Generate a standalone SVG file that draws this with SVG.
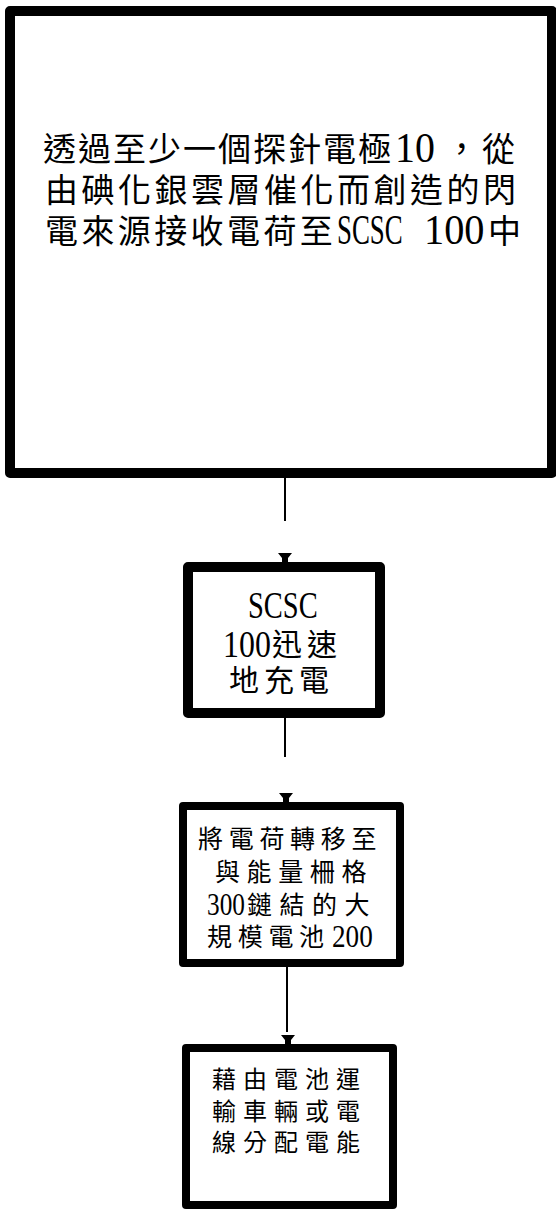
<svg xmlns="http://www.w3.org/2000/svg" width="556" height="1210" viewBox="0 0 556 1210">
<style>
.box{fill:#fff;stroke:#000;stroke-linejoin:round}
.t{font-family:"Liberation Serif","Noto Sans CJK TC",serif;fill:#000}
.c{stroke:#000;stroke-width:2;fill:none}
</style>
<defs>
<path id="ah" d="M-7,0 L7,0 L3,5 L3,9 L-3,9 L-3,5 Z" fill="#000"/>
</defs>
<rect width="556" height="1210" fill="#fff"/>
<g id="connectors">
<line class="c" x1="285" y1="476" x2="285" y2="521"/>
<use href="#ah" x="285" y="553"/>
<line class="c" x1="285" y1="716" x2="285" y2="757"/>
<use href="#ah" x="286" y="793"/>
<line class="c" x1="287" y1="965" x2="287" y2="1032"/>
<use href="#ah" x="288" y="1035"/>
</g>
<g id="node1">
<rect class="box" x="10" y="11" width="542" height="462" stroke-width="10"/>
<text class="t" font-size="33" x="43" y="161" letter-spacing="2">透過至少一個探針電極</text>
<text class="t" font-size="42" transform="translate(395,162) scale(0.95,1)">10</text>
<text class="t" font-size="33" x="445" y="161" letter-spacing="4">，從</text>
<text class="t" font-size="33" x="45" y="202" letter-spacing="3.5">由碘化銀雲層催化而創造的閃</text>
<text class="t" font-size="33" x="45" y="243" letter-spacing="3.4">電來源接收電荷至</text>
<text class="t" font-size="42" transform="translate(337,244) scale(0.64,1)">SCSC</text>
<text class="t" font-size="42" transform="translate(424,244) scale(0.96,1)">100</text>
<text class="t" font-size="33" x="488" y="243">中</text>
</g>
<g id="node2">
<rect class="box" x="188" y="567" width="192" height="146" stroke-width="10"/>
<text class="t" font-size="38" transform="translate(248,618) scale(0.75,1)">SCSC</text>
<text class="t" font-size="38" transform="translate(223,657) scale(0.84,1)">100</text>
<text class="t" font-size="30" x="272" y="655" letter-spacing="5">迅速</text>
<text class="t" font-size="30" x="229" y="691" letter-spacing="5">地充電</text>
</g>
<g id="node3">
<rect class="box" x="183" y="806" width="217" height="157" stroke-width="8"/>
<text class="t" font-size="25" x="198" y="848" letter-spacing="5.7">將電荷轉移至</text>
<text class="t" font-size="25" x="215" y="881" letter-spacing="6.6">與能量柵格</text>
<text class="t" font-size="32" transform="translate(207,915) scale(0.79,1)">300</text>
<text class="t" font-size="25" x="247" y="914" letter-spacing="7.5">鏈結的大</text>
<text class="t" font-size="25" x="207" y="946" letter-spacing="5.7">規模電池</text>
<text class="t" font-size="32" transform="translate(332,947) scale(0.85,1)">200</text>
</g>
<g id="node4">
<rect class="box" x="186" y="1048" width="207" height="157" stroke-width="8"/>
<text class="t" font-size="24" x="212" y="1088" letter-spacing="7">藉由電池運</text>
<text class="t" font-size="24" x="212" y="1120" letter-spacing="7">輸車輛或電</text>
<text class="t" font-size="24" x="212" y="1151" letter-spacing="7">線分配電能</text>
</g>
</svg>
